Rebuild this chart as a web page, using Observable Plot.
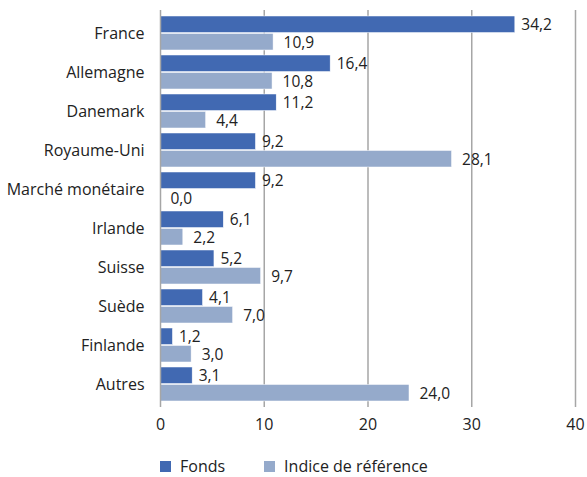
<!DOCTYPE html>
<html>
<head>
<meta charset="utf-8">
<script src="https://cdn.jsdelivr.net/npm/d3@7"></script>
<script src="https://cdn.jsdelivr.net/npm/@observablehq/plot@0.6"></script>
<style>
  body { margin: 0; background: #fff; font-family: "Open Sans", sans-serif; }
  #chart svg { display: block; }
  .legend { display: flex; align-items: center; margin-left: 160px; margin-top: 10px; font-size: 16px; color: #222; }
  .legend .item { display: flex; align-items: center; margin-right: 39px; }
  .legend .sw { width: 11px; height: 11px; margin-right: 9px; }
</style>
</head>
<body>
<div id="chart"></div>
<div class="legend" id="legend"></div>
<script>
const categories = ["France", "Allemagne", "Danemark", "Royaume-Uni", "Marché monétaire", "Irlande", "Suisse", "Suède", "Finlande", "Autres"];
const fonds = [34.2, 16.4, 11.2, 9.2, 9.2, 6.1, 5.2, 4.1, 1.2, 3.1];
const indice = [10.9, 10.8, 4.4, 28.1, 0.0, 2.2, 9.7, 7.0, 3.0, 24.0];
const seriesNames = ["Fonds", "Indice de référence"];
const colors = ["#4169B2", "#95AACB"];
const xTicks = [0, 10, 20, 30, 40];
const gridTicks = [10, 20, 30, 40];

const data = [];
categories.forEach((c, i) => {
  data.push({cat: c, series: seriesNames[0], value: fonds[i]});
  data.push({cat: c, series: seriesNames[1], value: indice[i]});
});

const width = 587, height = 445;
const marginTop = 10, marginBottom = 38, marginLeft = 160, marginRight = 12;
const pi = 0.12, po = 0.06;
const n = categories.length;
const step = (height - marginTop - marginBottom) / (n - pi + 2 * po);
const bw = step * (1 - pi);
const half = bw / 2;
const fmt = v => v.toFixed(1).replace(".", ",");

const chart = Plot.plot({
  width, height, marginTop, marginBottom, marginLeft, marginRight,
  style: {fontFamily: "'Open Sans', sans-serif", fontSize: "16px", color: "#222"},
  x: {domain: [0, 40], ticks: xTicks, tickSize: 0, tickPadding: 11, label: null, tickFormat: d => String(d)},
  y: {domain: categories, paddingInner: pi, paddingOuter: po, tickSize: 0, tickPadding: 16, label: null},
  color: {domain: seriesNames, range: colors},
  marks: [
    Plot.ruleX(gridTicks, {stroke: "#A6A6A6", strokeWidth: 1.5}),
    Plot.barX(data.filter(d => d.series === seriesNames[0]), {x: "value", y: "cat", fill: "series", insetBottom: half, stroke: "#fff", strokeWidth: 0.5}),
    Plot.barX(data.filter(d => d.series === seriesNames[1]), {x: "value", y: "cat", fill: "series", insetTop: half, stroke: "#fff", strokeWidth: 0.5}),
    Plot.ruleX([0], {stroke: "#A6A6A6", strokeWidth: 1.5}),
    Plot.text(data.filter(d => d.series === seriesNames[0]), {x: "value", y: "cat", text: d => fmt(d.value), dx: 6, dy: -half / 2, textAnchor: "start", fill: "#222", fontSize: 15.5}),
    Plot.text(data.filter(d => d.series === seriesNames[1]), {x: "value", y: "cat", text: d => fmt(d.value), dx: 10, dy: half / 2 + 0.5, textAnchor: "start", fill: "#222", fontSize: 15.5})
  ]
});
document.getElementById("chart").appendChild(chart);

const legend = document.getElementById("legend");
seriesNames.forEach((s, i) => {
  const item = document.createElement("div");
  item.className = "item";
  item.innerHTML = `<span class="sw" style="background:${colors[i]}"></span><span>${s}</span>`;
  legend.appendChild(item);
});
</script>
</body>
</html>
